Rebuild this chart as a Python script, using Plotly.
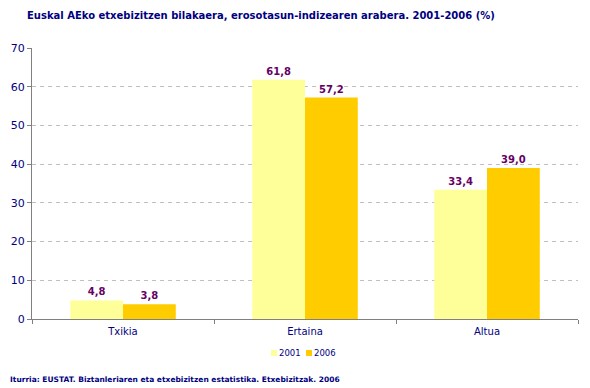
import plotly.graph_objects as go

categories = ["Txikia", "Ertaina", "Altua"]
values_2001 = [4.8, 61.8, 33.4]
values_2006 = [3.8, 57.2, 39.0]
series_names = ["2001", "2006"]
series_colors = ["#FFFF99", "#FFCC00"]
y_ticks = [0, 10, 20, 30, 40, 50, 60, 70]

navy = "#000080"
label_col = "#660066"

def fmt(v):
    return f"{v:.1f}".replace(".", ",")

fig = go.Figure()
for name, vals, col in zip(series_names, [values_2001, values_2006], series_colors):
    fig.add_trace(go.Bar(name=name, x=categories, y=vals,
                         marker=dict(color=col, line=dict(width=0)),
                         text=[f"<b>{fmt(v)}</b>" for v in vals], textposition="outside",
                         textfont=dict(color=label_col, size=10, family="DejaVu Sans"),
                         cliponaxis=False))

# page has an 8px offset; figure is sized to fill the rest of the window
W, H = 582, 380
L, R, T, B = 24, 12, 40, 69
pw = W - L - R
ph = H - T - B

def px_x(page_x):
    return (page_x - 8 - L) / pw

def px_y(page_y):
    return (H - B + 8 - page_y) / ph

shapes = []
annotations = []
legend_sq = [271, 306]
legend_tx = [278, 313]
for name, col, sx, tx in zip(series_names, series_colors, legend_sq, legend_tx):
    shapes.append(dict(type="rect", xref="paper", yref="paper",
                       x0=px_x(sx), x1=px_x(sx + 6), y0=px_y(356), y1=px_y(350),
                       fillcolor=col, line=dict(width=0)))
    annotations.append(dict(text=name, xref="paper", yref="paper", x=px_x(tx), y=px_y(352.5),
                            xanchor="left", yanchor="middle", showarrow=False, borderpad=0,
                            font=dict(size=8.5, color=navy, family="DejaVu Sans")))

annotations += [
    dict(text="<b>Euskal AEko etxebizitzen bilakaera, erosotasun-indizearen arabera. 2001-2006 (%)</b>",
         xref="paper", yref="paper", x=px_x(25), y=px_y(15), xanchor="left", yanchor="middle",
         showarrow=False, font=dict(size=10, color=navy, family="DejaVu Sans")),
    dict(text="<b>Iturria: EUSTAT. Biztanleriaren eta etxebizitzen estatistika. Etxebizitzak. 2006</b>",
         xref="paper", yref="paper", x=px_x(8), y=px_y(379), xanchor="left", yanchor="middle",
         showarrow=False, font=dict(size=7.5, color=navy, family="DejaVu Sans")),
]

fig.update_layout(
    width=W, height=H,
    margin=dict(l=L, r=R, t=T, b=B, autoexpand=False),
    paper_bgcolor="white", plot_bgcolor="white",
    barmode="group", bargap=0.42, bargroupgap=0,
    font=dict(family="DejaVu Sans", color=navy, size=11),
    showlegend=False,
    xaxis=dict(showline=True, linecolor="#808080", linewidth=1, automargin=False,
               ticks="outside", tickson="boundaries", ticklen=4, tickcolor="#808080",
               ticklabelstandoff=3,
               tickfont=dict(size=10, color=navy), showgrid=False),
    yaxis=dict(range=[0, 70], tickvals=y_ticks, showline=True, linecolor="#808080",
               linewidth=1, ticks="outside", ticklen=4, tickcolor="#808080", automargin=False,
               tickfont=dict(size=11, color=navy),
               showgrid=True, gridcolor="#C0C0C0", griddash="4px,4px", gridwidth=1,
               zeroline=False),
    shapes=shapes,
    annotations=annotations,
)

fig.write_html("out.html")
